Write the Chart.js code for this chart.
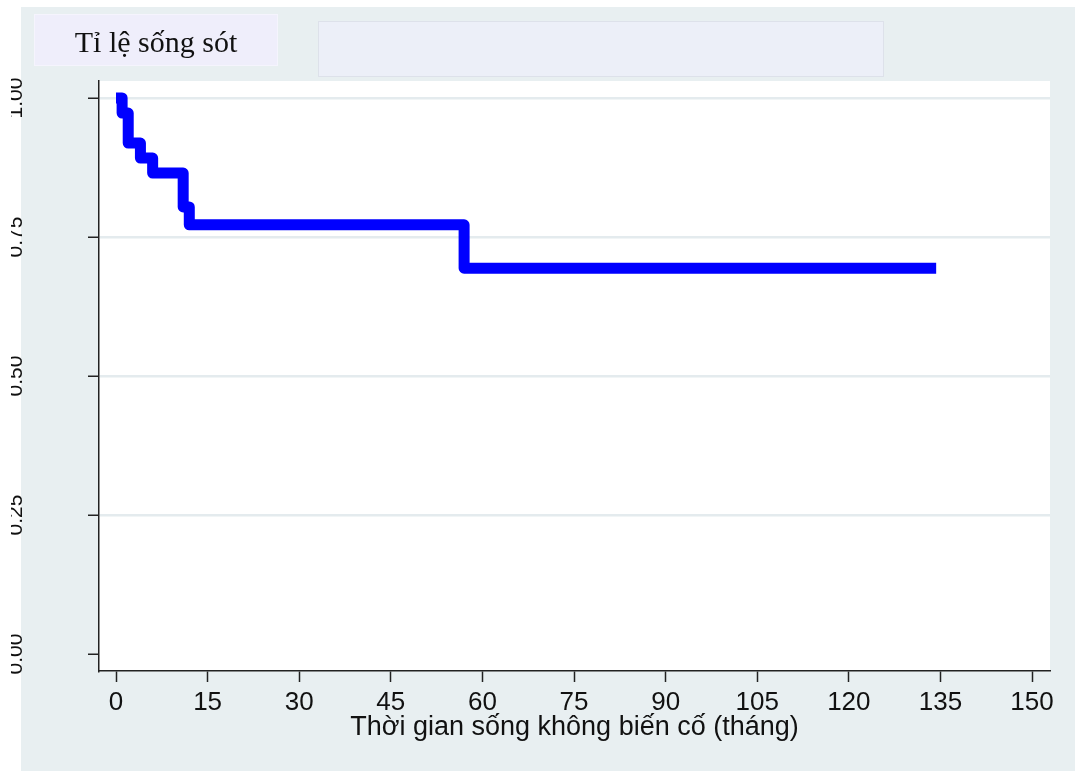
<!DOCTYPE html>
<html lang="vi">
<head>
<meta charset="utf-8">
<title>Tỉ lệ sống sót</title>
<script src="https://cdn.jsdelivr.net/npm/chart.js@4/dist/chart.umd.min.js"></script>
<style>
  html, body { margin: 0; padding: 0; background: #ffffff; }
  #wrap { width: 1075px; height: 771px; }
  canvas { display: block; }
</style>
</head>
<body>
<div id="wrap"><canvas id="km" width="1075" height="771"></canvas></div>
<script>
// Kaplan–Meier estimate: time of each step (months) and survival after it
const months   = [0, 1, 2, 4, 6, 11, 12, 57, 134.3];
const survival = [1, 0.973, 0.919, 0.892, 0.865, 0.804, 0.772, 0.694, 0.694];

// Axis ticks
const xTicks = [0, 15, 30, 45, 60, 75, 90, 105, 120, 135, 150];
const yTicks = [0, 0.25, 0.5, 0.75, 1];
const yTickLabels = ['0.00', '0.25', '0.50', '0.75', '1.00'];

// Texts
const titleText = 'Tỉ lệ sống sót';
const xTitleText = 'Thời gian sống không biến cố (tháng)';

const BG = '#e8eff1';
const GRID = '#e4ebee';
const SANS = '"Liberation Sans", Arial, sans-serif';
const SERIF = '"Liberation Serif", "Times New Roman", serif';

// Graph region, header boxes and white plot region behind the chart
const backdrop = {
  id: 'backdrop',
  beforeDraw(chart) {
    const { ctx, chartArea: a } = chart;
    ctx.save();
    ctx.fillStyle = '#ffffff';
    ctx.fillRect(0, 0, chart.width, chart.height);
    ctx.fillStyle = BG;
    ctx.fillRect(21, 7, chart.width - 21, chart.height - 7);

    // title box
    ctx.fillStyle = '#efeefb';
    ctx.fillRect(34, 14, 244, 52);
    ctx.strokeStyle = '#fbfbff';
    ctx.lineWidth = 1;
    ctx.setLineDash([1, 1]);
    ctx.strokeRect(34.5, 14.5, 243, 51);
    ctx.setLineDash([]);
    ctx.fillStyle = '#111111';
    ctx.font = '30px ' + SERIF;
    ctx.textAlign = 'center';
    ctx.textBaseline = 'alphabetic';
    ctx.fillText(titleText, 156, 52);

    // empty caption box
    ctx.fillStyle = '#eceff8';
    ctx.fillRect(318, 21, 566, 56);
    ctx.strokeStyle = '#dde1ea';
    ctx.strokeRect(318.5, 21.5, 565, 55);

    // plot region
    ctx.fillStyle = '#ffffff';
    ctx.fillRect(a.left, a.top, a.right - a.left, a.bottom - a.top);
    ctx.restore();
  }
};

// Rotated y tick labels at the left edge of the graph, cut by the page edge
const yLabels = {
  id: 'yLabels',
  afterDraw(chart) {
    const { ctx } = chart;
    const y = chart.scales.y;
    ctx.save();
    ctx.beginPath();
    ctx.rect(11, 0, 88, chart.height);
    ctx.clip();
    ctx.fillStyle = '#111111';
    ctx.font = '21px ' + SANS;
    ctx.textAlign = 'center';
    ctx.textBaseline = 'alphabetic';
    yTicks.forEach((v, i) => {
      const py = y.getPixelForValue(v);
      ctx.save();
      ctx.translate(22, py);
      ctx.rotate(-Math.PI / 2);
      ctx.fillText(yTickLabels[i], 0, 0);
      ctx.restore();
    });
    ctx.restore();
  }
};

new Chart(document.getElementById('km'), {
  type: 'line',
  data: {
    datasets: [{
      data: months.map((m, i) => ({ x: m, y: survival[i] })),
      borderColor: '#0000ff',
      borderWidth: 11,
      borderCapStyle: 'butt',
      borderJoinStyle: 'round',
      stepped: 'before',
      pointRadius: 0,
      pointHoverRadius: 0,
      fill: false
    }]
  },
  options: {
    responsive: false,
    animation: false,
    events: [],
    layout: { padding: { top: 81, right: 25, left: 0, bottom: 0 } },
    plugins: {
      legend: { display: false },
      title: { display: false },
      tooltip: { enabled: false }
    },
    scales: {
      x: {
        type: 'linear',
        min: -2.784,
        max: 152.94,
        afterBuildTicks(s) { s.ticks = xTicks.map(v => ({ value: v })); },
        afterFit(s) { s.height = 100; },
        ticks: {
          autoSkip: false,
          maxRotation: 0,
          minRotation: 0,
          padding: 5,
          color: '#111111',
          font: { family: SANS, size: 26 },
          callback: v => String(v)
        },
        grid: {
          drawOnChartArea: false,
          drawTicks: true,
          tickLength: 11,
          tickColor: '#222222',
          tickWidth: 1.5
        },
        border: { display: true, color: '#222222', width: 1.5 },
        title: {
          display: true,
          text: xTitleText,
          color: '#111111',
          font: { family: SANS, size: 27 },
          padding: { top: 0, bottom: 27 }
        }
      },
      y: {
        type: 'linear',
        min: -0.0306,
        max: 1.0306,
        afterBuildTicks(s) { s.ticks = yTicks.map(v => ({ value: v })); },
        afterFit(s) { s.width = 99; },
        ticks: { display: false },
        grid: {
          drawOnChartArea: true,
          drawTicks: true,
          tickLength: 11,
          color: ctx => (ctx.tick && ctx.tick.value === 0) ? 'rgba(0,0,0,0)' : GRID,
          lineWidth: 2.5,
          tickColor: '#222222',
          tickWidth: 1.5
        },
        border: { display: true, color: '#222222', width: 1.5 }
      }
    }
  },
  plugins: [backdrop, yLabels]
});
</script>
</body>
</html>
